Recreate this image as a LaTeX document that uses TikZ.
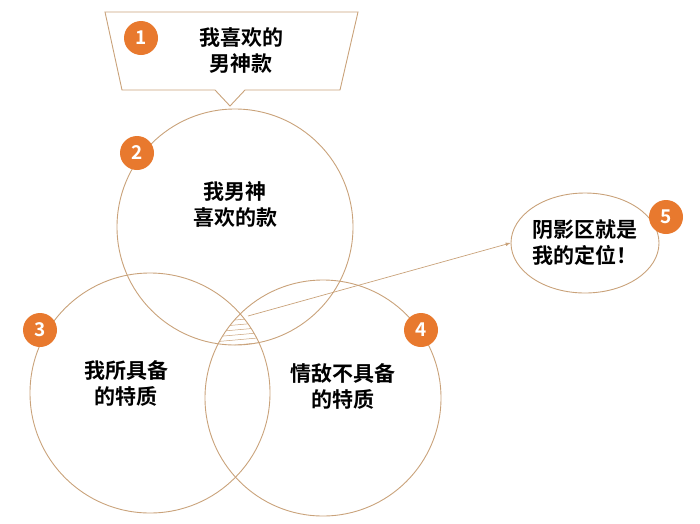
\documentclass[tikz,border=0pt]{standalone}
\usepackage{fontspec}
\setmainfont{Noto Sans CJK SC}[BoldFont={Noto Sans CJK SC Bold}]
\usetikzlibrary{shapes.geometric}
\definecolor{ringtan}{HTML}{C9A27A}
\definecolor{badgeorange}{HTML}{E8792E}
\tikzset{
  ring/.style={draw=ringtan,line width=0.9pt},
  badge/.style={circle,fill=badgeorange,minimum size=34pt,inner sep=0pt,text=white,font=\bfseries\fontsize{19}{19}\selectfont},
  label/.style={align=center,font=\bfseries\fontsize{21}{26}\selectfont}
}
\begin{document}
\begin{tikzpicture}[x=1pt,y=-1pt]
  \useasboundingbox (0,0) rectangle (700,523);
  % title box with pointer
  \draw[ring] (105,12) -- (358,12) -- (340,90) -- (245,90) -- (230,106) -- (215,90) -- (122,90) -- cycle;
  \node[label] (title) at (241,51) {我喜欢的\\男神款};
  % three circles
  \draw[ring] (235,227) circle (118);
  \draw[ring] (150,393) circle (120);
  \draw[ring] (323,398) circle (118);
  % hatched overlap
  \begin{scope}
    \clip (235,227) circle (118);
    \clip (150,393) circle (120);
    \clip (323,398) circle (118);
    \foreach \y in {300,305,...,350}
      \draw[ringtan,line width=0.5pt] (190,\y+4) -- (280,\y-4);
  \end{scope}
  \coordinate (spot) at (248,316);
  \node[ring,ellipse,minimum width=148pt,minimum height=100pt] (place) at (585,243) {};
  \node[label] at (place) {阴影区就是\\我的定位！};
  \draw[ringtan,line width=0.7pt,-latex] (spot) -- (place.west);
  % circle texts
  \node[label] (boss) at (235,205) {我男神\\喜欢的款};
  \node[label] (mine) at (126,383) {我所具备\\的特质};
  \node[label] (rival) at (343,386) {情敌不具备\\的特质};
  % badges
  \node[badge] (b1) at (141,38) {1};
  \node[badge] (b2) at (137,153) {2};
  \node[badge] (b3) at (40,330) {3};
  \node[badge] (b4) at (421,330) {4};
  \node[badge] (b5) at (666,217) {5};
\end{tikzpicture}
\end{document}
